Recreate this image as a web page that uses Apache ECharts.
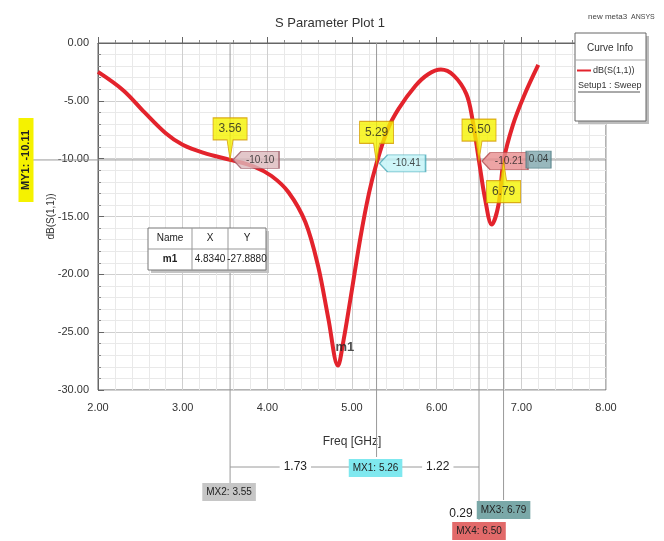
<!DOCTYPE html>
<html>
<head>
<meta charset="utf-8">
<script src="https://cdn.jsdelivr.net/npm/echarts@6/dist/echarts.min.js"></script>
<style>
html, body { margin: 0; padding: 0; background: #fff; }
#chart { width: 664px; height: 541px; }
</style>
</head>
<body>
<div id="chart"></div>
<script>
const FONT = "'Liberation Sans Narrow','Liberation Sans',Arial,sans-serif";

// S11 sweep
const freq = [2.0, 2.3, 2.55, 2.8, 3.0, 3.25, 3.56, 3.85, 4.05, 4.25, 4.45, 4.6, 4.72, 4.834, 4.9, 4.98, 5.1, 5.2, 5.29, 5.42, 5.55, 5.75, 5.9, 6.05, 6.2, 6.35, 6.42, 6.5, 6.57, 6.65, 6.73, 6.79, 6.9, 7.03, 7.2];
const s11 = [-2.5, -4.1, -6.0, -7.8, -8.8, -9.5, -10.1, -10.7, -11.5, -12.9, -15.5, -19.3, -23.8, -27.89, -25.7, -22.2, -16.8, -13.0, -10.4, -7.5, -5.7, -3.7, -2.7, -2.3, -2.8, -4.4, -6.5, -10.2, -13.4, -15.7, -14.0, -10.2, -7.1, -4.6, -1.9];

// markers
const markerX = [3.56, 5.29, 6.50, 6.79];
const markerY = [-10.10, -10.41, -10.21, -10.17];
const markerTags = ["3.56", "5.29", "6.50", "6.79"];
const valueTags = ["-10.10", "-10.41", "-10.21", "0.04"];
const valueFill = ["#dcb9bd", "#c2f4f8", "#e98d8f", "#7ea6ac"];
const valueStroke = ["#9c5a66", "#4aa9b8", "#b04a4e", "#4d7b82"];

const myLevel = -10.11;
const minName = "m1";
const minX = 4.834;
const minY = -27.888;

// bottom x-marker readouts
const mxTags = ["MX2: 3.55", "MX1: 5.26", "MX3: 6.79", "MX4: 6.50"];
const deltaTags = ["1.73", "1.22", "0.29"];

const calloutDown = "path://M0,0 H34 V22 H20 L17,42 L14,22 H0 Z";
const calloutUp = "path://M0,20 H14 L17,0 L20,20 H34 V42 H0 Z";
const valueBox = "path://M0,8 L8,0 H46 V16 H8 Z";

let chart = echarts.init(document.getElementById("chart"));

let calloutData = markerX.map((x, i) => {
  let up = i === 3;
  return {
    value: [x, markerY[i]],
    name: markerTags[i],
    symbol: up ? calloutUp : calloutDown,
    symbolSize: [34, 42],
    symbolOffset: [0, up ? 21 : -21],
    label: { offset: [0, up ? 10 : -10] }
  };
});

let valueData = markerX.map((x, i) => {
  if (i === 3) {
    return {
      value: [x, markerY[i]],
      name: valueTags[i],
      symbol: "rect",
      symbolSize: [25, 17],
      symbolOffset: [35, -1],
      itemStyle: { color: valueFill[i], borderColor: valueStroke[i] },
      label: { offset: [0, 0] }
    };
  }
  return {
    value: [x, markerY[i]],
    name: valueTags[i],
    symbol: valueBox,
    symbolSize: [46, 17],
    symbolOffset: [26, 0],
    itemStyle: { color: valueFill[i], borderColor: valueStroke[i] },
    label: { offset: [4, 0] }
  };
});

let option = {
  animation: false,
  textStyle: { fontFamily: FONT },
  title: {
    text: "S Parameter Plot 1",
    left: 325,
    top: 12,
    textAlign: "center",
    textStyle: { fontFamily: FONT, fontSize: 13, fontWeight: "normal", color: "#333" }
  },
  legend: {
    left: 577,
    top: 66,
    z: 20,
    itemWidth: 14,
    itemHeight: 2,
    icon: "rect",
    itemGap: 4,
    padding: 0,
    textStyle: { fontFamily: FONT, fontSize: 9, color: "#333", padding: [0, 0, 0, -3] },
    data: ["dB(S(1,1))"]
  },
  grid: {
    left: 98,
    right: 58,
    top: 43,
    bottom: 151,
    show: true,
    borderColor: "#666",
    borderWidth: 1
  },
  xAxis: {
    type: "value",
    min: 2,
    max: 8,
    interval: 1,
    name: "Freq [GHz]",
    nameLocation: "middle",
    nameGap: 46,
    nameTextStyle: { fontFamily: FONT, fontSize: 12, color: "#333" },
    axisLine: { lineStyle: { color: "#666" } },
    axisTick: { inside: true, length: 6, lineStyle: { color: "#666" } },
    minorTick: { show: true, splitNumber: 5, length: 3, lineStyle: { color: "#888" } },
    axisLabel: { fontFamily: FONT, fontSize: 11, color: "#333", margin: 12, formatter: v => v.toFixed(2) },
    splitLine: { lineStyle: { color: "#cfcfcf" } },
    minorSplitLine: { show: true, lineStyle: { color: "#e9e9e9" } }
  },
  yAxis: {
    type: "value",
    min: -30,
    max: 0,
    interval: 5,
    name: "dB(S(1,1))",
    nameLocation: "middle",
    nameRotate: 90,
    nameGap: 42,
    nameMoveOverlap: false,
    nameTextStyle: { fontFamily: FONT, fontSize: 10, color: "#333" },
    axisLine: { show: true, lineStyle: { color: "#666" } },
    axisTick: { show: true, inside: true, length: 6, lineStyle: { color: "#666" } },
    minorTick: { show: true, splitNumber: 5, length: 3, lineStyle: { color: "#888" } },
    axisLabel: { fontFamily: FONT, fontSize: 11, color: "#333", margin: 9, formatter: v => v.toFixed(2) },
    splitLine: { lineStyle: { color: "#cfcfcf" } },
    minorSplitLine: { show: true, lineStyle: { color: "#e9e9e9" } }
  },
  series: [
    {
      name: "dB(S(1,1))",
      type: "line",
      smooth: 0.35,
      symbol: "none",
      z: 3,
      color: "#e3232c",
      lineStyle: { color: "#e3232c", width: 4 },
      data: freq.map((f, i) => [f, s11[i]])
    },
    {
      name: "min",
      type: "scatter",
      z: 4,
      symbolSize: 1,
      itemStyle: { color: "#e3232c" },
      label: {
        show: true,
        formatter: "{b}",
        position: "inside",
        offset: [7, -18],
        fontFamily: FONT,
        fontSize: 13,
        fontWeight: "bold",
        color: "#222"
      },
      data: [{ value: [minX, minY], name: minName }]
    },
    {
      name: "values",
      type: "scatter",
      z: 5,
      label: {
        show: true,
        formatter: "{b}",
        position: "inside",
        fontFamily: FONT,
        fontSize: 10,
        color: "#222"
      },
      data: valueData
    },
    {
      name: "callouts",
      type: "scatter",
      z: 6,
      itemStyle: { color: "#f5f200", borderColor: "#d39a00", borderWidth: 1 },
      label: {
        show: true,
        formatter: "{b}",
        position: "inside",
        fontFamily: FONT,
        fontSize: 12,
        color: "#222"
      },
      data: calloutData
    }
  ]
};

chart.setOption(option);

// annotation overlay placed through the grid's own scale
const px = (x, y) => chart.convertToPixel({ gridIndex: 0 }, [x, y]);
let plotTop = px(2, 0)[1];
let plotRight = px(8, 0)[0];
let xs = markerX.map(x => px(x, 0)[0]);
let yLev = px(2, myLevel)[1];
let lineStyle = { stroke: "#9a9a9a", lineWidth: 1 };
let ends = [485, 457, 520, 500];

let els = [];
xs.forEach((x, i) => {
  els.push({ type: "line", z: 1, shape: { x1: x, y1: plotTop, x2: x, y2: ends[i] }, style: lineStyle, silent: true });
});
els.push({ type: "line", z: 1, shape: { x1: 33, y1: yLev, x2: plotRight, y2: yLev }, style: lineStyle, silent: true });

// deltas below the axis
let dY = 467;
els.push({ type: "line", shape: { x1: xs[0], y1: dY, x2: xs[2], y2: dY }, style: lineStyle });
els.push({ type: "line", shape: { x1: xs[2], y1: 513, x2: xs[3], y2: 513 }, style: lineStyle });
const tagText = (x, y, text, bg, size) => ({
  type: "text",
  z: 10,
  x: x,
  y: y,
  style: {
    text: text,
    fontFamily: FONT,
    fontSize: size || 10,
    fill: "#222",
    align: "center",
    verticalAlign: "middle",
    backgroundColor: bg,
    padding: bg === "#fff" ? [1, 4] : [4, 4]
  }
});
els.push(tagText((xs[0] + xs[1]) / 2 - 8, dY, deltaTags[0], "#fff", 12));
els.push(tagText((xs[1] + xs[2]) / 2 + 10, dY, deltaTags[1], "#fff", 12));
els.push(tagText(xs[2] - 18, 514, deltaTags[2], "#fff", 12));
els.push(tagText(xs[0] - 1, 492, mxTags[0], "#c6c6c6"));
els.push(tagText(xs[1] - 1, 468, mxTags[1], "#7fe8ef"));
els.push(tagText(xs[3], 510, mxTags[2], "#7aa8a8"));
els.push(tagText(xs[2], 531, mxTags[3], "#e26a6a"));

// MY1 tag on the left
els.push({
  type: "text",
  z: 10,
  x: 26,
  y: yLev,
  rotation: Math.PI / 2,
  style: {
    text: "MY1: -10.11",
    fontFamily: FONT,
    fontSize: 11,
    fontWeight: "bold",
    fill: "#222",
    align: "center",
    verticalAlign: "middle",
    backgroundColor: "#f5f200",
    padding: [2, 12]
  }
});

// marker table
let tx = 148, ty = 228;
let colW = [44, 36, 38];
let rowH = 21;
els.push({ type: "rect", z: 7, shape: { x: tx + 3, y: ty + 3, width: 118, height: 42 }, style: { fill: "#c4c4c4" } });
els.push({ type: "rect", z: 8, shape: { x: tx, y: ty, width: 118, height: 42 }, style: { fill: "#fff", stroke: "#777" } });
els.push({ type: "line", z: 9, shape: { x1: tx, y1: ty + rowH, x2: tx + 118, y2: ty + rowH }, style: { stroke: "#999" } });
els.push({ type: "line", z: 9, shape: { x1: tx + colW[0], y1: ty, x2: tx + colW[0], y2: ty + 42 }, style: { stroke: "#999" } });
els.push({ type: "line", z: 9, shape: { x1: tx + colW[0] + colW[1], y1: ty, x2: tx + colW[0] + colW[1], y2: ty + 42 }, style: { stroke: "#999" } });
let cells = [["Name", "X", "Y"], [minName, minX.toFixed(4), minY.toFixed(4)]];
cells.forEach((row, r) => {
  let cx = tx;
  row.forEach((t, c) => {
    els.push({
      type: "text",
      z: 10,
      x: cx + colW[c] / 2,
      y: ty + rowH * r + rowH / 2,
      style: { text: t, fontFamily: FONT, fontSize: 10, fill: "#222", align: "center", verticalAlign: "middle", fontWeight: r === 1 && c === 0 ? "bold" : "normal" }
    });
    cx += colW[c];
  });
});

// curve info box
els.push({ type: "rect", z: 7, shape: { x: 578, y: 36, width: 71, height: 88 }, style: { fill: "#bdbdbd" } });
els.push({ type: "rect", z: 8, shape: { x: 575, y: 33, width: 71, height: 88 }, style: { fill: "#fff", stroke: "#666" } });
els.push({ type: "text", z: 9, x: 610, y: 48, style: { text: "Curve Info", fontFamily: FONT, fontSize: 10, fill: "#333", align: "center", verticalAlign: "middle" } });
els.push({ type: "line", z: 9, shape: { x1: 575, y1: 60, x2: 646, y2: 60 }, style: { stroke: "#aaa" } });
els.push({ type: "text", z: 9, x: 578, y: 86, style: { text: "Setup1 : Sweep", fontFamily: FONT, fontSize: 9, fill: "#333", verticalAlign: "middle" } });
els.push({ type: "line", z: 9, shape: { x1: 578, y1: 92, x2: 640, y2: 92 }, style: { stroke: "#555" } });

// header tags
els.push({ type: "text", x: 588, y: 17, style: { text: "new meta3", fontFamily: FONT, fontSize: 8, fill: "#444", verticalAlign: "middle" } });
els.push({ type: "text", x: 631, y: 17, style: { text: "ANSYS", fontFamily: FONT, fontSize: 7, fill: "#444", verticalAlign: "middle" } });

chart.setOption({ graphic: { elements: els } });
</script>
</body>
</html>
